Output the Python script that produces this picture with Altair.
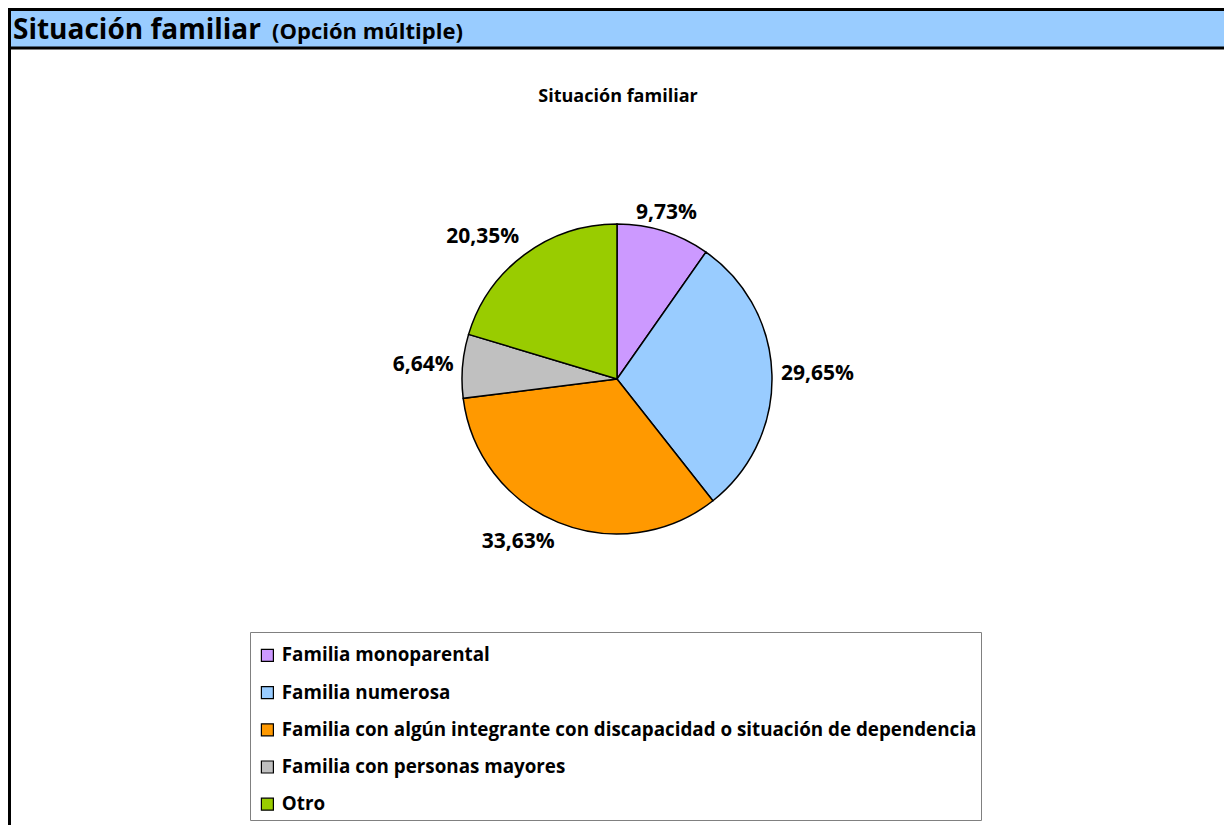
import altair as alt
import pandas as pd

categories = [
    "Familia monoparental",
    "Familia numerosa",
    "Familia con algún integrante con discapacidad o situación de dependencia",
    "Familia con personas mayores",
    "Otro",
]
values = [9.73, 29.65, 33.63, 6.64, 20.35]
colors = ["#CC99FF", "#99CCFF", "#FF9900", "#C0C0C0", "#99CC00"]
labels = [f"{v:.2f}".replace(".", ",") + "%" for v in values]

df = pd.DataFrame({"cat": categories, "val": values, "lab": labels, "idx": list(range(len(values)))})

W, H = 1216, 817
CX, CY, R = 609, 371, 155
LR = 164
FONT = "Open Sans"
one = alt.Data(values=[{}])

color = alt.Color(
    "cat:N",
    scale=alt.Scale(domain=categories, range=colors),
    legend=alt.Legend(
        title=None, orient="none", legendX=250, legendY=638,
        symbolType="square", symbolSize=144, symbolStrokeColor="black",
        symbolStrokeWidth=1.2, symbolOpacity=1,
        labelFont=FONT, labelFontSize=18.8, labelFontWeight="bold",
        labelColor="black", labelLimit=0, labelOffset=5,
        rowPadding=17.2, padding=0,
    ),
)

header = alt.Chart(one).mark_rect(fill="#99CCFF", stroke="black", strokeWidth=3).encode(
    x=alt.value(1.5), x2=alt.value(W + 10), y=alt.value(1.5), y2=alt.value(40)
)
left_border = alt.Chart(one).mark_rule(stroke="black", strokeWidth=3).encode(
    x=alt.value(1.5), y=alt.value(40), y2=alt.value(H + 10)
)
head_title = alt.Chart(one).mark_text(
    text="Situación familiar", font=FONT, fontSize=28, fontWeight="bold",
    align="left", baseline="alphabetic", color="black"
).encode(x=alt.value(5), y=alt.value(31))
head_sub = alt.Chart(one).mark_text(
    text="(Opción múltiple)", font=FONT, fontSize=22, fontWeight="bold",
    align="left", baseline="alphabetic", color="black"
).encode(x=alt.value(264), y=alt.value(31))
chart_title = alt.Chart(one).mark_text(
    text="Situación familiar", font=FONT, fontSize=18, fontWeight="bold",
    align="center", baseline="middle", color="black"
).encode(x=alt.value(610), y=alt.value(89))
legend_box = alt.Chart(one).mark_rect(fill="white", stroke="#808080", strokeWidth=1).encode(
    x=alt.value(242.5), x2=alt.value(973.5), y=alt.value(624.5), y2=alt.value(812.5)
)

pie = alt.Chart(df).mark_arc(stroke="black", strokeWidth=1.5, outerRadius=R).encode(
    theta=alt.Theta("val:Q", stack=True),
    color=color,
    order=alt.Order("idx:Q"),
    x=alt.value(CX),
    y=alt.value(CY),
)

# percentage labels: placed at each slice's mid-angle, anchored by the box side facing the pie
base_lab = alt.Chart(df).transform_window(
    cum="sum(val)", sort=[alt.SortField("idx")], frame=[None, 0]
).transform_joinaggregate(
    tot="sum(val)"
).transform_calculate(
    mid="(datum.cum - datum.val / 2) / datum.tot"
)

def lab_layer(lo, hi, align, baseline):
    return base_lab.transform_filter(
        (alt.datum.mid >= lo) & (alt.datum.mid < hi)
    ).mark_text(
        font=FONT, fontSize=21, fontWeight="bold", color="black",
        align=align, baseline=baseline
    ).encode(
        theta=alt.Theta("mid:Q", scale=alt.Scale(domain=[0, 1], range=[0, 6.283185307179586]), stack=None),
        radius=alt.value(LR),
        text="lab:N",
        x=alt.value(CX),
        y=alt.value(CY),
    )

labels_layer = alt.layer(
    lab_layer(0.0, 0.125, "center", "bottom"),
    lab_layer(0.125, 0.375, "left", "middle"),
    lab_layer(0.375, 0.5, "left", "top"),
    lab_layer(0.5, 0.625, "right", "top"),
    lab_layer(0.625, 0.875, "right", "middle"),
    lab_layer(0.875, 1.01, "right", "bottom"),
)

chart = alt.layer(
    header, left_border, head_title, head_sub, chart_title, legend_box, pie, labels_layer
).resolve_scale(
    theta="independent"
).properties(
    width=W, height=H, padding=0, autosize=alt.AutoSizeParams(type="none"), background="white"
).configure_view(stroke=None)

chart.save("out.html", embed_options={"renderer": "svg", "actions": False})
